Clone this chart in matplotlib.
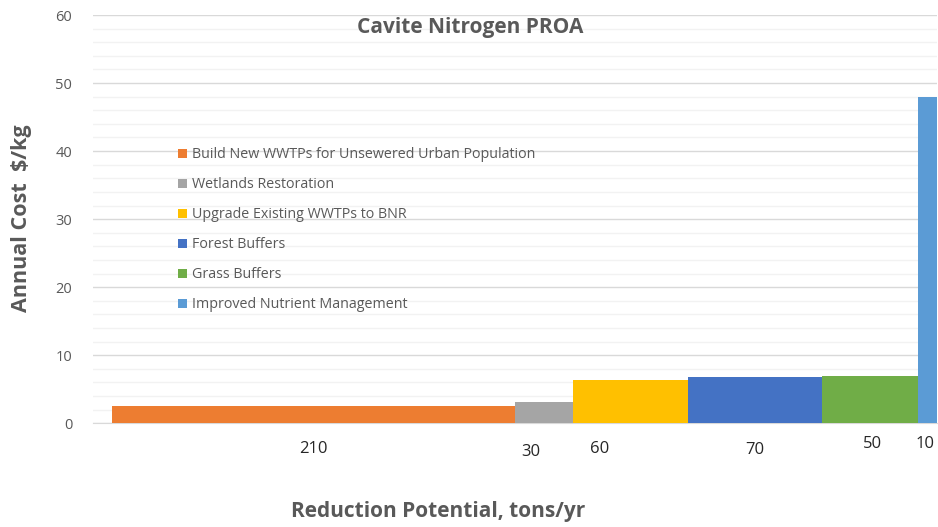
import numpy as np
import matplotlib
matplotlib.use("Agg")
import matplotlib.pyplot as plt
from matplotlib.patches import Patch

plt.rcParams['font.family'] = ['Open Sans', 'DejaVu Sans']

# data
practices = ["Build New WWTPs for Unsewered Urban Population",
             "Wetlands Restoration",
             "Upgrade Existing WWTPs to BNR",
             "Forest Buffers",
             "Grass Buffers",
             "Improved Nutrient Management"]
reduction = [210, 30, 60, 70, 50, 10]          # tons/yr (bar widths)
cost = [2.6, 3.2, 6.4, 6.8, 7.0, 47.9]         # $/kg (bar heights)
width_labels = ["210", "30", "60", "70", "50", "10"]
colors = ["#ed7d31", "#a5a5a5", "#ffc000", "#4472c4", "#70ad47", "#5b9bd5"]

W, H = 938, 527
fig = plt.figure(figsize=(W / 100, H / 100), dpi=100)
ax = fig.add_axes([93 / W, 1 - 423.3 / H, (937 - 93) / W, (423.3 - 15) / H])

lefts = np.concatenate([[0], np.cumsum(reduction)[:-1]])
ax.bar(lefts, cost, width=reduction, align='edge', color=colors, zorder=3)

ax.set_xlim(-10, sum(reduction))
ax.set_ylim(0, 60)
ax.set_yticks(np.arange(0, 61, 10))
ax.set_yticks(np.arange(0, 61, 2), minor=True)
ax.grid(axis='y', which='major', color='#d9d9d9', lw=1, zorder=0)
ax.grid(axis='y', which='minor', color='#f2f2f2', lw=1, zorder=0)
ax.set_xticks([])
ax.tick_params(axis='y', which='both', length=0, labelsize=10.5, labelcolor='#595959', pad=15)
for s in ['top', 'right', 'left']:
    ax.spines[s].set_visible(False)
ax.spines['bottom'].set_color('#d9d9d9')

# width labels under each block (small nudges as in the original)
dx_px = [0, -13, -30, 0, 3, -2]
y_px = [449, 452, 449, 450, 444, 444]
for l, w, t, dx, yp in zip(lefts, reduction, width_labels, dx_px, y_px):
    xc = ax.transData.transform((l + w / 2, 0))[0] + dx
    fig.text(xc / W, 1 - yp / H, t, ha='center', va='center', fontsize=12, color='#262626')

fig.text(470 / W, 1 - 27 / H, "Cavite Nitrogen PROA", ha='center', va='center',
         fontsize=15, fontweight='bold', color='#595959')
fig.text(438 / W, 1 - 512 / H, "Reduction Potential, tons/yr", ha='center', va='center',
         fontsize=15, fontweight='bold', color='#595959')
fig.text(22 / W, 1 - 218 / H, "Annual Cost  $/kg", ha='center', va='center', rotation=90,
         fontsize=15.5, fontweight='bold', color='#595959')

handles = [Patch(facecolor=c, edgecolor='none') for c in colors]
fig.legend(handles, practices, loc='upper left', bbox_to_anchor=(171 / W, 1 - 140 / H),
           frameon=False, fontsize=10.3, labelcolor='#595959', handlelength=0.6,
           handleheight=0.6, handletextpad=0.35, labelspacing=1.05, borderpad=0)

fig.savefig("out.png", dpi=100)
